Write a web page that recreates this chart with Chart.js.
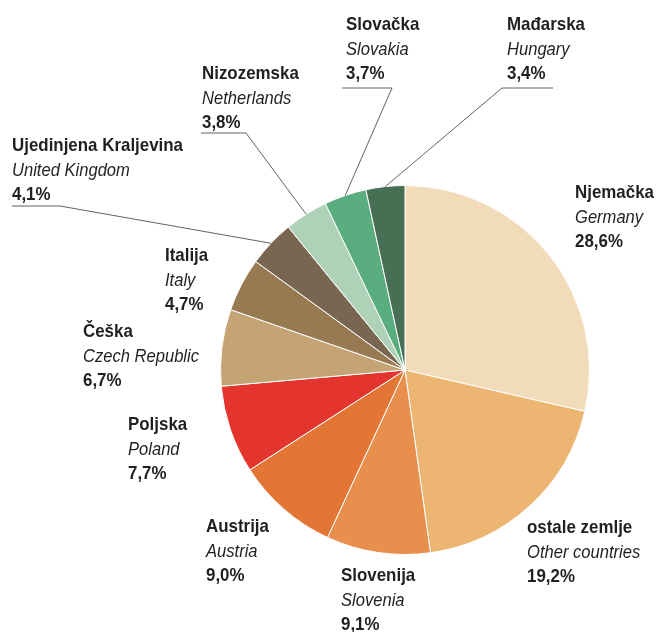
<!DOCTYPE html>
<html>
<head>
<meta charset="utf-8">
<script src="https://cdn.jsdelivr.net/npm/chart.js@4.4.1/dist/chart.umd.min.js"></script>
<style>
  html, body { margin: 0; padding: 0; background: #fff; }
  #wrap { width: 656px; height: 632px; position: relative; }
</style>
</head>
<body>
<div id="wrap"><canvas id="c" width="656" height="632"></canvas></div>
<script>
// data, clockwise from 12 o'clock
const namesHr = ['Njemačka', 'ostale zemlje', 'Slovenija', 'Austrija', 'Poljska', 'Češka', 'Italija', 'Ujedinjena Kraljevina', 'Nizozemska', 'Slovačka', 'Mađarska'];
const namesEn = ['Germany', 'Other countries', 'Slovenia', 'Austria', 'Poland', 'Czech Republic', 'Italy', 'United Kingdom', 'Netherlands', 'Slovakia', 'Hungary'];
const shares = [28.6, 19.2, 9.1, 9.0, 7.7, 6.7, 4.7, 4.1, 3.8, 3.7, 3.4];
const colors = ['#f1dbb9', '#ecb572', '#e98f4d', '#e37634', '#e3342d', '#c4a474', '#977a51', '#786651', '#afd1b8', '#5aad7f', '#466f54'];

// label placement: [left x, first baseline, leader shelf [x0, x1, y] or null]
const labelPos = [
  [575, 198, null],
  [527, 533, null],
  [341, 581, null],
  [206, 532, null],
  [128, 430, null],
  [83, 337, null],
  [165, 261, null],
  [12, 151, [12, 60, 206]],
  [202, 79, [201, 246, 133]],
  [346, 30, [342, 392, 88]],
  [507, 30, [553, 502, 88]]
];

const FONT = '"Liberation Sans", Arial, sans-serif';
const LINE = 24.5;
const BOLD = 'bold 19px ' + FONT;
const ITAL = 'italic 19px ' + FONT;

function fmt(v) { return v.toFixed(1).replace('.', ',') + '%'; }

// squeeze the regular font to look like a condensed face
function squeezed(ctx, font, k, text, x, y) {
  ctx.save();
  ctx.font = font;
  ctx.translate(x, y);
  ctx.scale(k, 1);
  ctx.fillText(text, 0, 0);
  ctx.restore();
}

const labelPlugin = {
  id: 'pieLabels',
  afterDraw(chart) {
    const ctx = chart.ctx;
    const arcs = chart.getDatasetMeta(0).data;
    ctx.save();
    ctx.textAlign = 'left';
    ctx.textBaseline = 'alphabetic';
    ctx.fillStyle = '#231f20';
    ctx.font = BOLD;
    const kb = 171 / ctx.measureText('Ujedinjena Kraljevina').width;
    ctx.font = ITAL;
    const ki = 116 / ctx.measureText('Czech Republic').width;
    arcs.forEach((arc, i) => {
      const [x, y, shelf] = labelPos[i];
      squeezed(ctx, BOLD, kb, namesHr[i], x, y);
      squeezed(ctx, ITAL, ki, namesEn[i], x, y + LINE);
      squeezed(ctx, BOLD, kb, fmt(shares[i]), x, y + 2 * LINE);
      if (shelf) {
        const p = arc.getProps(['x', 'y', 'startAngle', 'endAngle', 'outerRadius'], true);
        const mid = (p.startAngle + p.endAngle) / 2;
        const ex = p.x + Math.cos(mid) * p.outerRadius;
        const ey = p.y + Math.sin(mid) * p.outerRadius;
        ctx.beginPath();
        ctx.strokeStyle = '#3a3a3a';
        ctx.lineWidth = 0.8;
        ctx.moveTo(shelf[0], shelf[2]);
        ctx.lineTo(shelf[1], shelf[2]);
        ctx.lineTo(ex, ey);
        ctx.stroke();
      }
    });
    ctx.restore();
  }
};

new Chart(document.getElementById('c'), {
  type: 'pie',
  data: {
    labels: namesHr,
    datasets: [{
      data: shares,
      backgroundColor: colors,
      borderColor: '#ffffff',
      borderWidth: 1
    }]
  },
  options: {
    responsive: false,
    animation: false,
    layout: { padding: { left: 220, right: 66, top: 185, bottom: 77 } },
    plugins: { legend: { display: false }, tooltip: { enabled: false } }
  },
  plugins: [labelPlugin]
});
</script>
</body>
</html>
